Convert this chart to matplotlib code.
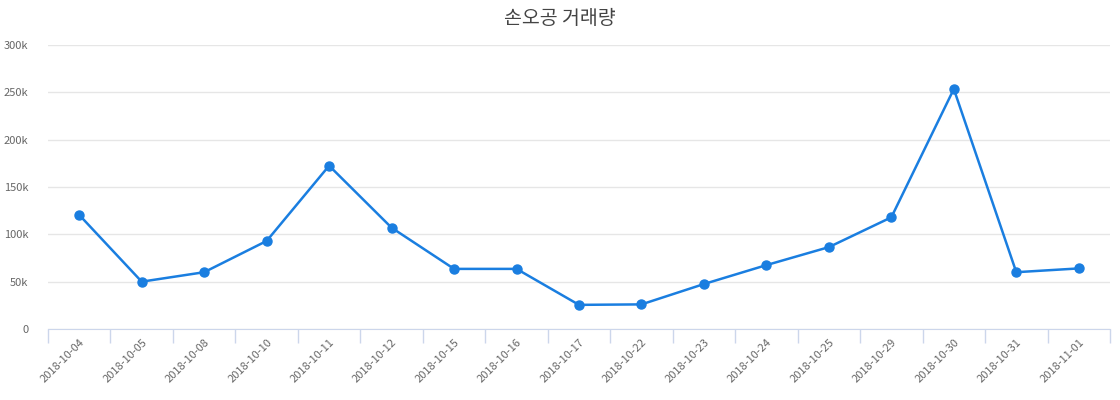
import matplotlib
matplotlib.use('Agg')
from matplotlib import pyplot as plt
from matplotlib.ticker import FuncFormatter

plt.rcParams['font.family'] = ['Noto Sans CJK KR', 'DejaVu Sans']

# 날짜별 거래량
dates = ['2018-10-04', '2018-10-05', '2018-10-08', '2018-10-10', '2018-10-11',
         '2018-10-12', '2018-10-15', '2018-10-16', '2018-10-17', '2018-10-22',
         '2018-10-23', '2018-10-24', '2018-10-25', '2018-10-29', '2018-10-30',
         '2018-10-31', '2018-11-01']
volume = [120500, 50000, 60000, 93000, 172500, 107000, 63500, 63500, 25500,
          26000, 47500, 67500, 86500, 118000, 253500, 60000, 64000]

fig = plt.figure(figsize=(11.2, 4), dpi=100)
ax = fig.add_axes([48 / 1120, 71 / 400, 1062 / 1120, 284 / 400])

x = list(range(len(dates)))
ax.plot(x, volume, color='#1a7ee0', linewidth=1.8, marker='o', markersize=6.5,
        zorder=3, clip_on=False)

ax.set_xlim(-0.5, len(dates) - 0.5)
ax.set_ylim(0, 300000)
ax.set_yticks(range(0, 300001, 50000))
ax.yaxis.set_major_formatter(FuncFormatter(lambda v, p: '0' if v == 0 else f'{int(v / 1000)}k'))
ax.grid(axis='y', color='#e6e6e6', linewidth=1)
ax.set_axisbelow(True)

ax.set_xticks(x)
ax.set_xticklabels(dates, rotation=45, ha='right', rotation_mode='anchor')
ax.set_xticks([i - 0.5 for i in range(len(dates) + 1)], minor=True)
ax.tick_params(axis='x', which='major', length=0, pad=6, labelsize=8, labelcolor='#666666')
ax.tick_params(axis='x', which='minor', length=10, color='#ccd6eb', width=1)
ax.tick_params(axis='y', length=0, pad=14, labelsize=8, labelcolor='#666666')

for s in ['top', 'right', 'left']:
    ax.spines[s].set_visible(False)
ax.spines['bottom'].set_color('#ccd6eb')

fig.text(0.5, 0.955, '손오공 거래량', ha='center', va='center', fontsize=14, color='#444444')

plt.savefig('out.png', dpi=100)
